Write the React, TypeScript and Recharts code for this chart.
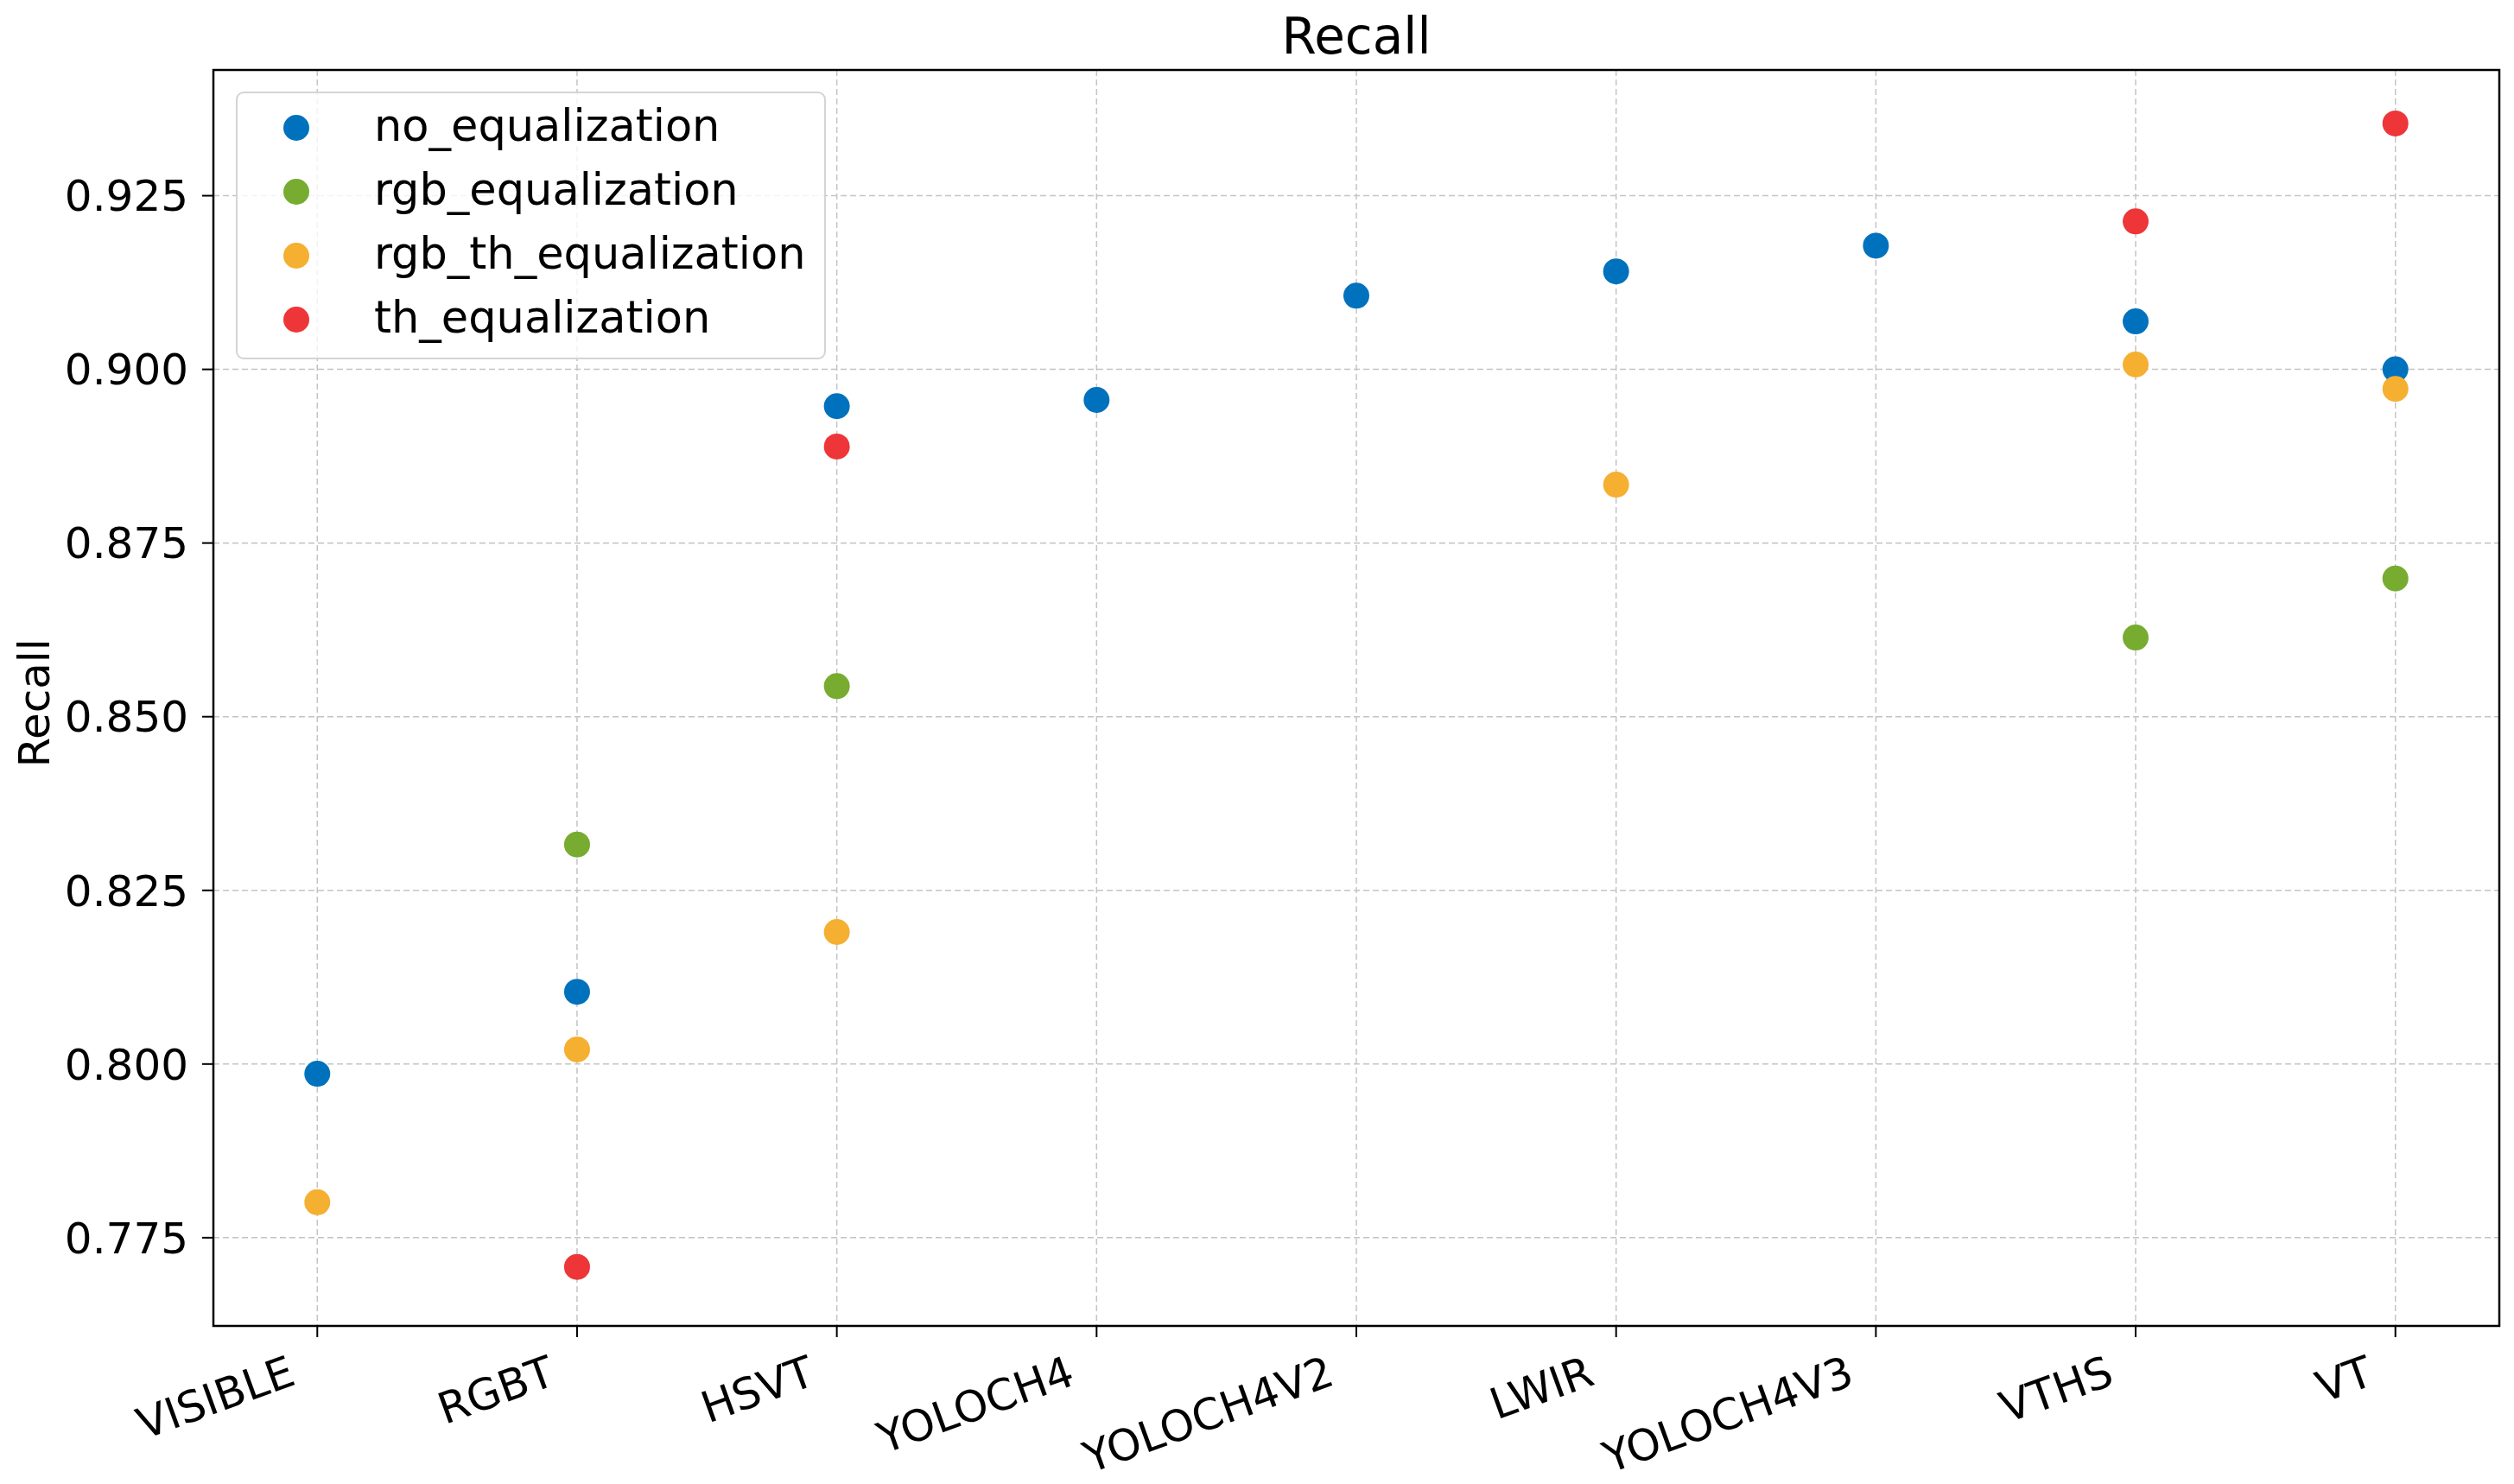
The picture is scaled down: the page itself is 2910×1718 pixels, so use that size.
import { ScatterChart, Scatter, XAxis, YAxis, CartesianGrid, ReferenceArea, Legend } from 'recharts';

const categories = ['VISIBLE', 'RGBT', 'HSVT', 'YOLOCH4', 'YOLOCH4V2', 'LWIR', 'YOLOCH4V3', 'VTHS', 'VT'];

const noEqualization = [0.7986, 0.8104, 0.8947, 0.8956, 0.9106, 0.9141, 0.9178, 0.9069, 0.9000];
const rgbEqualization = [null, 0.8316, 0.8544, null, null, null, null, 0.8614, 0.8699];
const rgbThEqualization = [0.7801, 0.8021, 0.8190, null, null, 0.8834, null, 0.9007, 0.8972];
const thEqualization = [null, 0.7708, 0.8889, null, null, null, null, 0.9213, 0.9354];

const yTicks = [0.775, 0.8, 0.825, 0.85, 0.875, 0.9, 0.925];

const series = [
  { name: 'no_equalization', values: noEqualization, color: '#0072BD' },
  { name: 'rgb_equalization', values: rgbEqualization, color: '#77AC30' },
  { name: 'rgb_th_equalization', values: rgbThEqualization, color: '#F5AF31' },
  { name: 'th_equalization', values: thEqualization, color: '#EE3538' },
];

const toPoints = (values: (number | null)[]) =>
  values
    .map((v, i) => (v == null ? null : { x: i, y: v }))
    .filter((p) => p !== null);

const FONT = 'DejaVu Sans';

const XTick = (props: any) => {
  const { x, y, payload } = props;
  return (
    <text
      transform={`translate(${x - 23},${y + 54}) rotate(-20)`}
      textAnchor="end"
      fontSize={50}
      fontFamily={FONT}
      fill="#000"
    >
      {categories[payload.value]}
    </text>
  );
};

const LegendBox = () => (
  <svg width={683} height={310}>
    <rect x={1} y={1} width={681} height={308} rx={8} fill="#fff" fillOpacity={0.8} stroke="#d4d4d4" strokeWidth={2} />
    {series.map((s, i) => (
      <g key={s.name}>
        <circle cx={70} cy={42 + i * 74} r={15} fill={s.color} />
        <text x={160} y={42 + i * 74 + 15} fontSize={51} fontFamily={FONT} fill="#000">
          {s.name}
        </text>
      </g>
    ))}
  </svg>
);

const YLabel = (props: any) => {
  const { viewBox } = props;
  const cy = viewBox.y + viewBox.height / 2 + 6;
  return (
    <text transform={`translate(57,${cy}) rotate(-90)`} textAnchor="middle" fontSize={50} fontFamily={FONT} fill="#000">
      Recall
    </text>
  );
};

export default function App() {
  return (
    <div style={{ position: 'absolute', left: 0, top: 0, width: 2910, height: 1718, background: '#fff' }}>
      <div
        style={{
          position: 'absolute',
          left: 0,
          top: 13,
          width: 3140,
          textAlign: 'center',
          fontFamily: FONT,
          fontSize: 58,
          lineHeight: 1,
          color: '#000',
        }}
      >
        Recall
      </div>
      <ScatterChart width={2910} height={1718} margin={{ top: 81, right: 17, bottom: 33, left: 47 }}>
        <CartesianGrid stroke="#c4c4c4" strokeWidth={1.5} strokeDasharray="7 4" />
        <XAxis
          dataKey="x"
          type="number"
          domain={[-0.4, 8.4]}
          ticks={[0, 1, 2, 3, 4, 5, 6, 7, 8]}
          interval={0}
          height={150}
          tickSize={13}
          tickMargin={0}
          axisLine={false}
          tickLine={{ stroke: '#000', strokeWidth: 2 }}
          tick={<XTick />}
        />
        <YAxis
          dataKey="y"
          type="number"
          domain={[0.7623, 0.9431]}
          ticks={yTicks}
          width={200}
          tickSize={13}
          tickMargin={16}
          axisLine={false}
          tickLine={{ stroke: '#000', strokeWidth: 2 }}
          tick={{ fontSize: 50, fontFamily: FONT, fill: '#000' }}
          tickFormatter={(v: number) => v.toFixed(3)}
          label={<YLabel />}
        />
        <ReferenceArea x1={-0.4} x2={8.4} y1={0.7623} y2={0.9431} fill="none" stroke="#000" strokeWidth={2.5} />
        {series.map((s) => (
          <Scatter
            key={s.name}
            name={s.name}
            data={toPoints(s.values)}
            fill={s.color}
            isAnimationActive={false}
            shape={(p: any) => <circle cx={p.cx} cy={p.cy} r={15} fill={s.color} />}
          />
        ))}
        <Legend
          layout="vertical"
          align="center"
          verticalAlign="middle"
          content={<LegendBox />}
          wrapperStyle={{ position: 'absolute', left: 273, top: 106, width: 683, height: 310 }}
        />
      </ScatterChart>
    </div>
  );
}
